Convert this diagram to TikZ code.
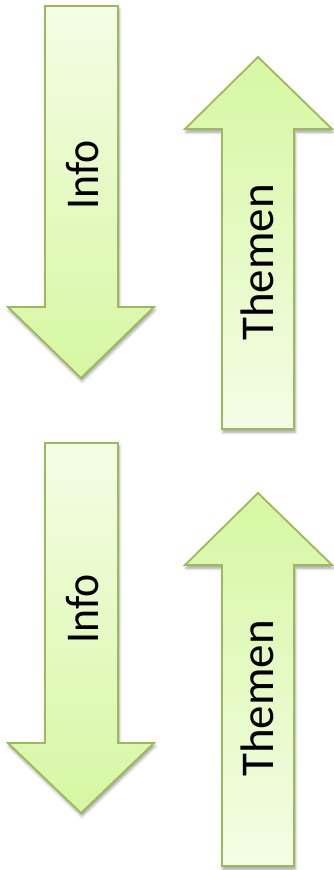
\documentclass[tikz,border=0pt]{standalone}
\usepackage{fontspec}
\setmainfont{Carlito}
\usetikzlibrary{shadows.blur}
\definecolor{arrline}{HTML}{9BBB59}
\definecolor{arrlight}{HTML}{F4FDE6}
\definecolor{arrdark}{HTML}{D6F7A2}
\tikzset{
  arrowshape/.style={draw=arrline, line width=1.8pt, line join=miter,
    blur shadow={shadow xshift=1pt, shadow yshift=-3pt, shadow blur radius=3pt, shadow opacity=40}},
  downarrow/.style={arrowshape, top color=arrlight, bottom color=arrdark},
  uparrow/.style={arrowshape, top color=arrdark, bottom color=arrlight},
  arrlabel/.style={rotate=90, anchor=base, inner sep=0pt, font=\fontsize{47}{52}\selectfont, text=black}
}
\begin{document}
\begin{tikzpicture}[x=1pt, y=-1pt]
\useasboundingbox (0,0) rectangle (333,870);
% arrow 1 (down)
\path[downarrow] (45,6) -- (118,6) -- (118,307) -- (154,307) -- (81,378) -- (8,307) -- (45,307) -- cycle;
% arrow 2 (up)
\path[uparrow] (258,57) -- (332,129) -- (294,129) -- (294,429) -- (222,429) -- (222,129) -- (185,129) -- cycle;
% arrow 3 (down)
\path[downarrow] (45,443) -- (118,443) -- (118,743) -- (154,743) -- (81,813) -- (8,743) -- (45,743) -- cycle;
% arrow 4 (up)
\path[uparrow] (258,493) -- (332,565) -- (294,565) -- (294,866) -- (222,866) -- (222,565) -- (185,565) -- cycle;
\node[arrlabel] (info1) at (98,175) {\scalebox{0.93}[1]{Info}};
\node[arrlabel] (themen1) at (273,262.5) {Themen};
\node[arrlabel] (info2) at (98,609) {\scalebox{0.93}[1]{Info}};
\node[arrlabel] (themen2) at (273,698.5) {Themen};
\end{tikzpicture}
\end{document}
